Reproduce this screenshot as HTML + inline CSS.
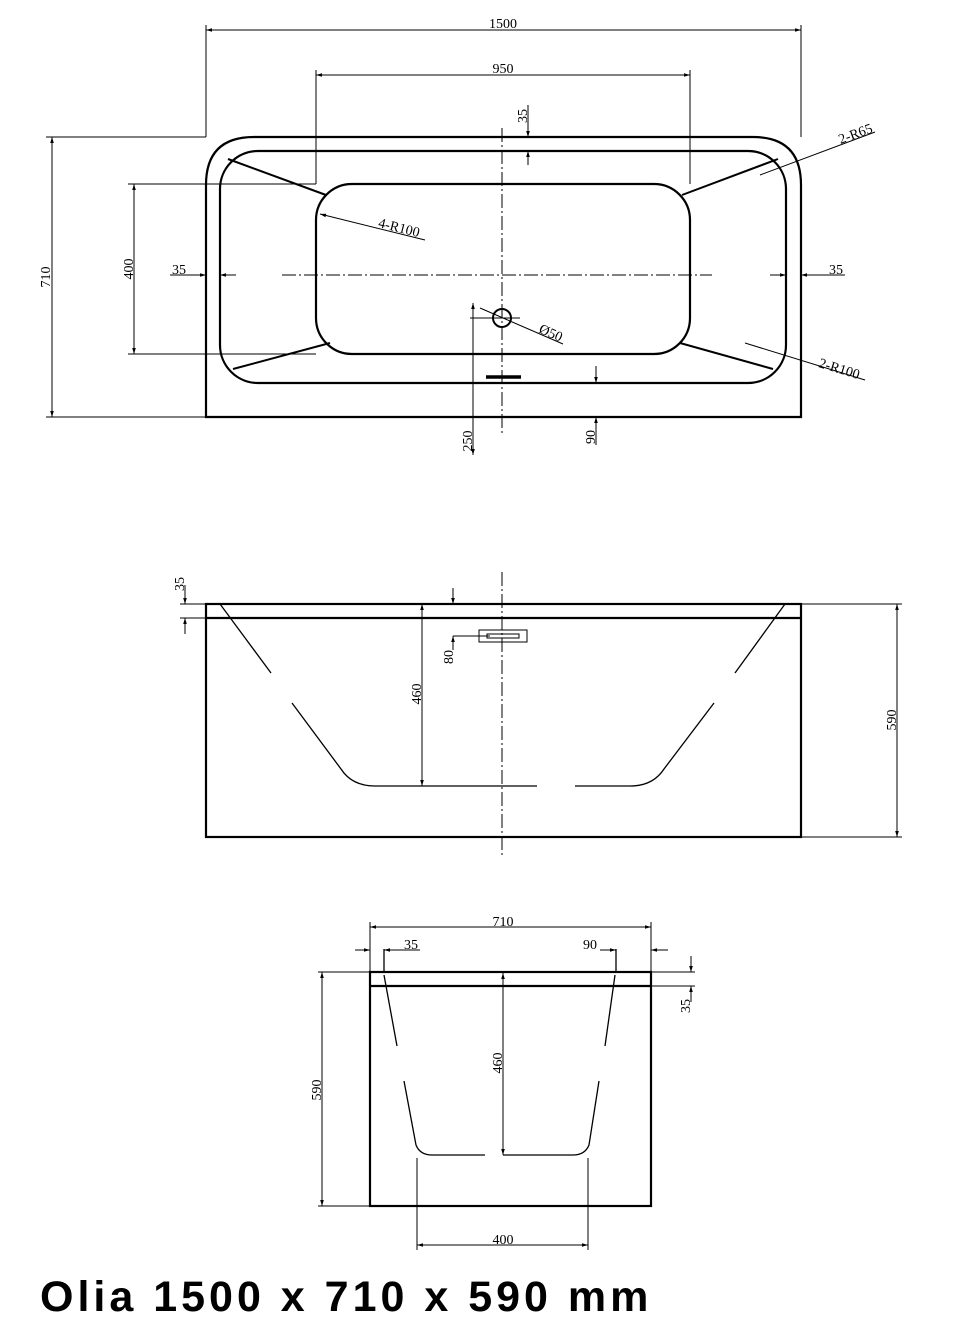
<!DOCTYPE html>
<html><head><meta charset="utf-8"><style>
html,body{margin:0;padding:0;background:#fff;}
svg{display:block;}
text{font-family:"Liberation Serif",serif;font-size:14px;fill:#000;}
</style></head><body>
<svg width="956" height="1337" viewBox="0 0 956 1337" xmlns="http://www.w3.org/2000/svg">
<defs>
<marker id="a" viewBox="0 0 10 10" refX="10" refY="5" markerWidth="8" markerHeight="6" orient="auto-start-reverse" markerUnits="userSpaceOnUse"><path d="M0,2 L10,5 L0,8 z" fill="#000"/></marker>
</defs>
<g fill="none" stroke="#000">
<path d="M206,417 L206,185 Q206,137 254,137 L753,137 Q801,137 801,185 L801,417 Z" stroke-width="2.2"/>
<rect x="220" y="151" width="566" height="232" rx="38" stroke-width="2.2"/>
<rect x="316" y="184" width="374" height="170" rx="36" stroke-width="2.2"/>
<line x1="228" y1="159" x2="326" y2="195" stroke-width="2"/>
<line x1="233" y1="369" x2="330" y2="343" stroke-width="2"/>
<line x1="778" y1="159" x2="682" y2="195" stroke-width="2"/>
<line x1="773" y1="369" x2="680" y2="343" stroke-width="2"/>
<circle cx="502" cy="318" r="9" stroke-width="2"/>
<line x1="486" y1="377" x2="521" y2="377" stroke-width="3.5"/>
<line x1="502" y1="128" x2="502" y2="435" stroke-width="1" stroke-dasharray="14,3,2,3"/>
<line x1="282" y1="275" x2="712" y2="275" stroke-width="1" stroke-dasharray="14,3,2,3"/>
<line x1="206" y1="25" x2="206" y2="137" stroke-width="1"/>
<line x1="801" y1="25" x2="801" y2="137" stroke-width="1"/>
<line x1="206" y1="30" x2="801" y2="30" stroke-width="1" marker-start="url(#a)" marker-end="url(#a)"/>
<line x1="316" y1="70" x2="316" y2="184" stroke-width="1"/>
<line x1="690" y1="70" x2="690" y2="184" stroke-width="1"/>
<line x1="316" y1="75" x2="690" y2="75" stroke-width="1" marker-start="url(#a)" marker-end="url(#a)"/>
<line x1="528" y1="105" x2="528" y2="137" stroke-width="1" marker-end="url(#a)"/>
<line x1="528" y1="165" x2="528" y2="151" stroke-width="1" marker-end="url(#a)"/>
<line x1="46" y1="137" x2="206" y2="137" stroke-width="1"/>
<line x1="46" y1="417" x2="206" y2="417" stroke-width="1"/>
<line x1="52" y1="137" x2="52" y2="417" stroke-width="1" marker-start="url(#a)" marker-end="url(#a)"/>
<line x1="128" y1="184" x2="316" y2="184" stroke-width="1"/>
<line x1="128" y1="354" x2="316" y2="354" stroke-width="1"/>
<line x1="134" y1="184" x2="134" y2="354" stroke-width="1" marker-start="url(#a)" marker-end="url(#a)"/>
<line x1="170" y1="275" x2="206" y2="275" stroke-width="1" marker-end="url(#a)"/>
<line x1="236" y1="275" x2="220" y2="275" stroke-width="1" marker-end="url(#a)"/>
<line x1="770" y1="275" x2="786" y2="275" stroke-width="1" marker-end="url(#a)"/>
<line x1="845" y1="275" x2="801" y2="275" stroke-width="1" marker-end="url(#a)"/>
<line x1="473" y1="303" x2="473" y2="455" stroke-width="1" marker-start="url(#a)" marker-end="url(#a)"/>
<line x1="470" y1="318" x2="520" y2="318" stroke-width="1"/>
<line x1="480" y1="308" x2="563" y2="344" stroke-width="1"/>
<line x1="596" y1="366" x2="596" y2="383" stroke-width="1" marker-end="url(#a)"/>
<line x1="596" y1="445" x2="596" y2="417" stroke-width="1" marker-end="url(#a)"/>
<line x1="320" y1="214" x2="425" y2="240" stroke-width="1" marker-start="url(#a)"/>
<line x1="760" y1="175" x2="875" y2="132" stroke-width="1"/>
<line x1="745" y1="343" x2="865" y2="380" stroke-width="1"/>
<rect x="206" y="604" width="595" height="233" stroke-width="2.2"/>
<line x1="206" y1="618" x2="801" y2="618" stroke-width="2.2"/>
<path d="M220,604 L271,673 M292,703 L341,769 Q352,786 375,786 L537,786 M785,604 L735,673 M714,703 L664,769 Q653,786 630,786 L575,786" stroke-width="1.3"/>
<rect x="479" y="630" width="48" height="12" stroke-width="1"/>
<rect x="487" y="634" width="32" height="4" stroke-width="1"/>
<line x1="502" y1="572" x2="502" y2="858" stroke-width="1" stroke-dasharray="14,3,2,3"/>
<line x1="180" y1="604" x2="206" y2="604" stroke-width="1"/>
<line x1="180" y1="618" x2="206" y2="618" stroke-width="1"/>
<line x1="185" y1="585" x2="185" y2="604" stroke-width="1" marker-end="url(#a)"/>
<line x1="185" y1="634" x2="185" y2="618" stroke-width="1" marker-end="url(#a)"/>
<line x1="422" y1="604" x2="422" y2="786" stroke-width="1" marker-start="url(#a)" marker-end="url(#a)"/>
<line x1="453" y1="588" x2="453" y2="604" stroke-width="1" marker-end="url(#a)"/>
<line x1="453" y1="650" x2="453" y2="636" stroke-width="1" marker-end="url(#a)"/>
<line x1="453" y1="636" x2="490" y2="636" stroke-width="1"/>
<line x1="801" y1="604" x2="902" y2="604" stroke-width="1"/>
<line x1="801" y1="837" x2="902" y2="837" stroke-width="1"/>
<line x1="897" y1="604" x2="897" y2="837" stroke-width="1" marker-start="url(#a)" marker-end="url(#a)"/>
<rect x="370" y="972" width="281" height="234" stroke-width="2.2"/>
<line x1="370" y1="986" x2="651" y2="986" stroke-width="2.2"/>
<path d="M384,949 L384,972 M384,975 L397,1046 M404,1081 L416,1145 Q420,1155 432,1155 L485,1155 M616,949 L616,972 M615,975 L605,1046 M599,1081 L589,1145 Q585,1155 573,1155 L503,1155" stroke-width="1.3"/>
<line x1="370" y1="922" x2="370" y2="972" stroke-width="1"/>
<line x1="651" y1="922" x2="651" y2="972" stroke-width="1"/>
<line x1="370" y1="927" x2="651" y2="927" stroke-width="1" marker-start="url(#a)" marker-end="url(#a)"/>
<line x1="355" y1="950" x2="370" y2="950" stroke-width="1" marker-end="url(#a)"/>
<line x1="420" y1="950" x2="384" y2="950" stroke-width="1" marker-end="url(#a)"/>
<line x1="600" y1="950" x2="616" y2="950" stroke-width="1" marker-end="url(#a)"/>
<line x1="668" y1="950" x2="651" y2="950" stroke-width="1" marker-end="url(#a)"/>
<line x1="503" y1="973" x2="503" y2="1155" stroke-width="1" marker-start="url(#a)" marker-end="url(#a)"/>
<line x1="651" y1="972" x2="695" y2="972" stroke-width="1"/>
<line x1="651" y1="986" x2="695" y2="986" stroke-width="1"/>
<line x1="691" y1="956" x2="691" y2="972" stroke-width="1" marker-end="url(#a)"/>
<line x1="691" y1="1002" x2="691" y2="986" stroke-width="1" marker-end="url(#a)"/>
<line x1="318" y1="972" x2="370" y2="972" stroke-width="1"/>
<line x1="318" y1="1206" x2="370" y2="1206" stroke-width="1"/>
<line x1="322" y1="972" x2="322" y2="1206" stroke-width="1" marker-start="url(#a)" marker-end="url(#a)"/>
<line x1="417" y1="1158" x2="417" y2="1250" stroke-width="1"/>
<line x1="588" y1="1158" x2="588" y2="1250" stroke-width="1"/>
<line x1="417" y1="1245" x2="588" y2="1245" stroke-width="1" marker-start="url(#a)" marker-end="url(#a)"/>
</g>
<text x="503" y="28" text-anchor="middle">1500</text>
<text x="503" y="73" text-anchor="middle">950</text>
<text transform="translate(527,116) rotate(-90)" text-anchor="middle">35</text>
<text transform="translate(50,277) rotate(-90)" text-anchor="middle">710</text>
<text transform="translate(133,269) rotate(-90)" text-anchor="middle">400</text>
<text x="179" y="274" text-anchor="middle">35</text>
<text x="836" y="274" text-anchor="middle">35</text>
<text transform="translate(398,232) rotate(14)" text-anchor="middle">4-R100</text>
<text transform="translate(857,138) rotate(-20)" text-anchor="middle">2-R65</text>
<text transform="translate(838,373) rotate(17)" text-anchor="middle">2-R100</text>
<text transform="translate(549,337) rotate(24)" text-anchor="middle">Ø50</text>
<text transform="translate(472,441) rotate(-90)" text-anchor="middle">250</text>
<text transform="translate(595,437) rotate(-90)" text-anchor="middle">90</text>
<text transform="translate(184,584) rotate(-90)" text-anchor="middle">35</text>
<text transform="translate(421,694) rotate(-90)" text-anchor="middle">460</text>
<text transform="translate(453,657) rotate(-90)" text-anchor="middle">80</text>
<text transform="translate(896,720) rotate(-90)" text-anchor="middle">590</text>
<text x="503" y="926" text-anchor="middle">710</text>
<text x="411" y="949" text-anchor="middle">35</text>
<text x="590" y="949" text-anchor="middle">90</text>
<text transform="translate(502,1063) rotate(-90)" text-anchor="middle">460</text>
<text transform="translate(690,1006) rotate(-90)" text-anchor="middle">35</text>
<text transform="translate(321,1090) rotate(-90)" text-anchor="middle">590</text>
<text x="503" y="1244" text-anchor="middle">400</text>
<text x="40" y="1311" style="font-family:'Liberation Sans',sans-serif;font-size:43px;font-weight:bold;letter-spacing:4px;">Olia 1500 x 710 x 590 mm</text>
</svg>
</body></html>
